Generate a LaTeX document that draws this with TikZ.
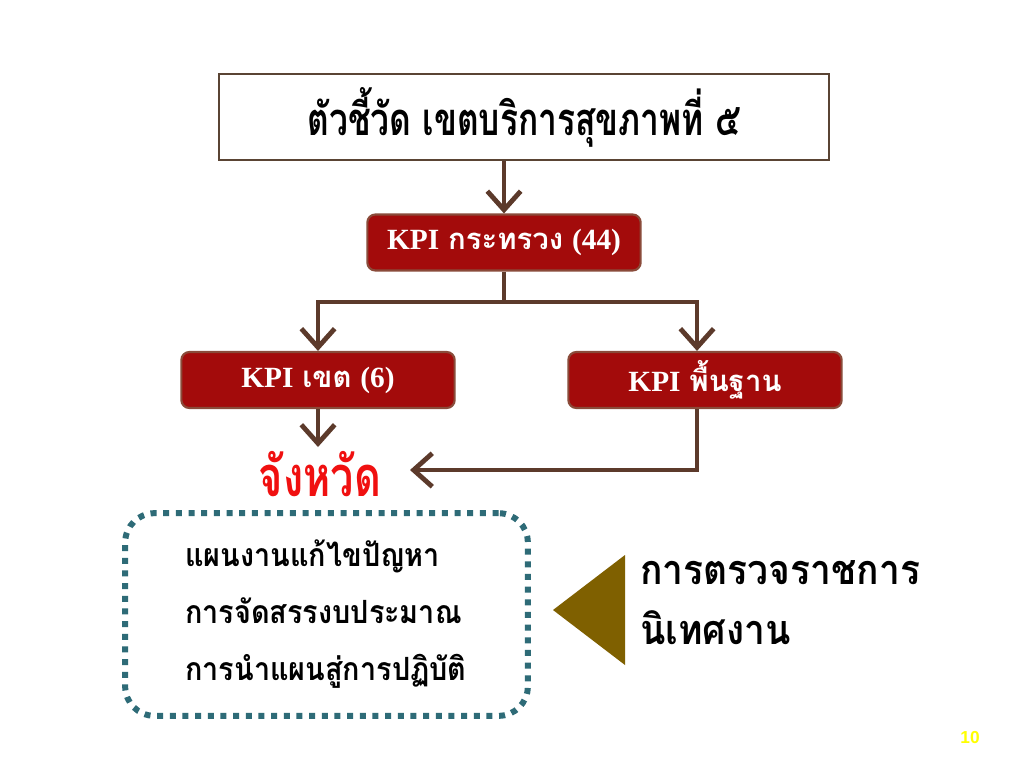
\documentclass[tikz,border=0pt]{standalone}
\usepackage{fontspec}
\usetikzlibrary{arrows.meta}
\newfontfamily\thai[Script=Thai]{Loma}
\newfontfamily\thaitall[Script=Thai,FakeStretch=0.74]{Loma}
\newfontfamily\thaimid[Script=Thai,FakeStretch=0.9]{Loma}
\newfontfamily\kpifont{Liberation Serif}
\newfontfamily\pagefont{Liberation Sans}
\definecolor{conn}{HTML}{5C3A2B}
\definecolor{kpired}{HTML}{A30B0B}
\definecolor{kpiedge}{HTML}{8A4B3A}
\definecolor{topedge}{HTML}{5A4434}
\definecolor{teal}{HTML}{2E6B77}
\definecolor{olive}{HTML}{7F6000}
\definecolor{provred}{HTML}{F01010}
\definecolor{pageyel}{HTML}{FFFF00}
\tikzset{
  conn/.style={draw=conn, line width=3.6pt},
  arr/.style={conn, -{Straight Barb[length=14pt,width=25pt,line width=3.6pt]}},
  kpibox/.style={draw=kpiedge, line width=1.6pt, fill=kpired, rounded corners=6pt,
    minimum width=205pt, minimum height=42pt, text=white, inner sep=0pt},
  topbox/.style={draw=topedge, line width=1.6pt, fill=white,
    minimum width=457pt, minimum height=64pt, inner sep=0pt},
}
\begin{document}
\begin{tikzpicture}[x=0.75pt,y=-0.75pt]
\useasboundingbox[fill=white] (0,0) rectangle (1024,768);
\node[topbox] (top) at (524,117) {\thaitall\bfseries\fontsize{34}{38}\selectfont ตัวชี้วัด เขตบริการสุขภาพที่ ๕};
\node[kpibox] (kpiM) at (504,242.5) {\fontsize{22}{26}\selectfont{\kpifont\bfseries KPI} {\thai\bfseries กระทรวง} {\kpifont\bfseries (44)}};
\node[kpibox] (kpiL) at (318,380) {\fontsize{22}{26}\selectfont{\kpifont\bfseries KPI} {\thai\bfseries เขต} {\kpifont\bfseries (6)}};
\node[kpibox] (kpiR) at (705,380) {\fontsize{22}{26}\selectfont{\kpifont\bfseries KPI} {\thai\bfseries พื้นฐาน}};
\node[text=provred, inner sep=0pt] (prov) at (320,474) {\thaitall\bfseries\fontsize{42}{46}\selectfont จังหวัด};
\coordinate (pin) at (410,470);
\coordinate (bar) at (504,302);
% connectors
\draw[arr] (top.south -| kpiM.north) -- (kpiM.north);
\draw[conn] (kpiM.south) -- (bar);
\draw[arr] (bar) -| (kpiL.north);
\draw[arr] (bar) -| (kpiR.north -| 697,0);
\draw[arr] (kpiL.south) -- (318,447);
\draw[arr] (kpiR.south -| 697,0) |- (pin);
% dotted box
\node[draw=teal, line width=4.5pt, dash pattern=on 4.5pt off 5pt, rounded corners=22pt,
  minimum width=302pt, minimum height=152pt] (dbox) at (326.5,614.5) {};
\node[anchor=west, align=left, inner sep=0pt, font=\thaimid\bfseries\fontsize{24}{43}\selectfont] (list) at (185,614)
  {แผนงานแก้ไขปัญหา\\การจัดสรรงบประมาณ\\การนำแผนสู่การปฏิบัติ};
% triangle
\fill[olive] (553,610) -- (625,555) -- (625,665) -- cycle;
\node[anchor=west, align=left, inner sep=0pt, font=\thaimid\bfseries\fontsize{31}{45}\selectfont] (insp) at (640,603)
  {การตรวจราชการ\\นิเทศงาน};
\node[text=pageyel, font=\pagefont\bfseries\fontsize{13}{15}\selectfont] (page) at (970,738) {10};
\end{tikzpicture}
\end{document}
